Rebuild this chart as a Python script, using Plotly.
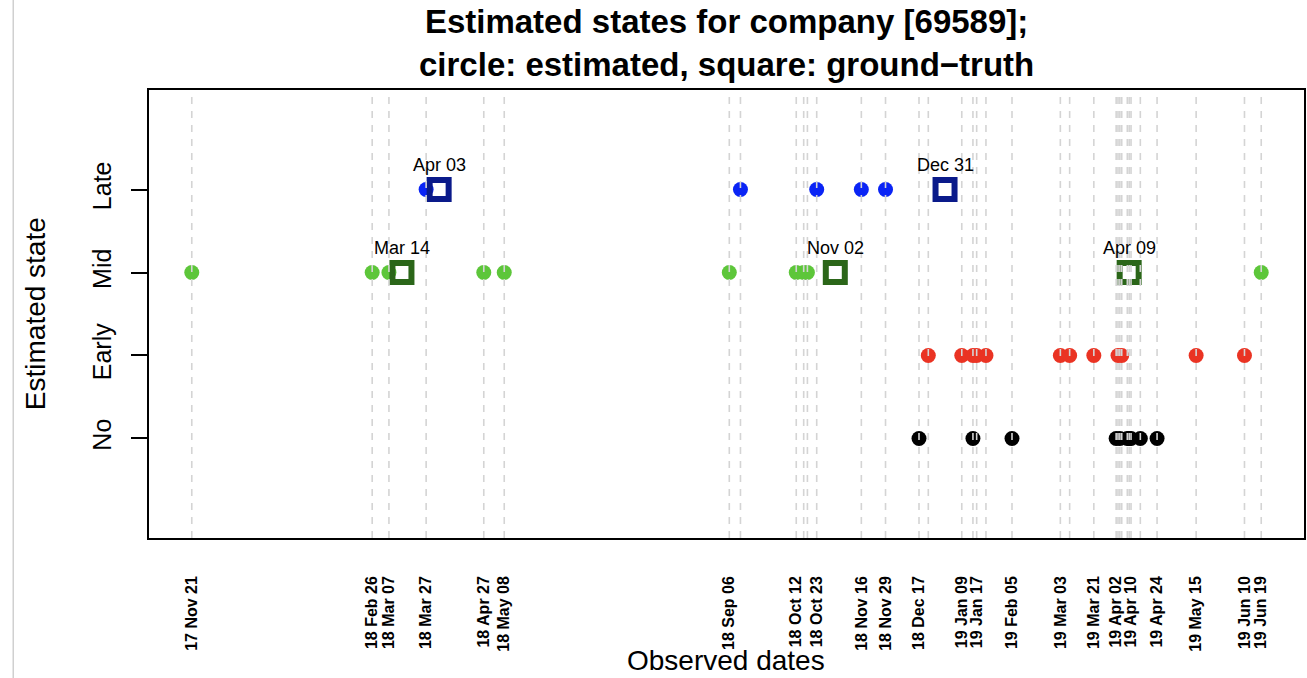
import pandas as pd
import plotly.graph_objects as go

# Observed dates and the state estimated on each (0=No, 1=Early, 2=Mid, 3=Late)
obs_dates = [
    "2017-11-21", "2018-02-26", "2018-03-07", "2018-03-27", "2018-04-27", "2018-05-08",
    "2018-09-06", "2018-09-12", "2018-10-12", "2018-10-16", "2018-10-18", "2018-10-23",
    "2018-11-16", "2018-11-29", "2018-12-17", "2018-12-22", "2019-01-09", "2019-01-15",
    "2019-01-15", "2019-01-17", "2019-01-22", "2019-02-05", "2019-03-03", "2019-03-08",
    "2019-03-21", "2019-04-02", "2019-04-03", "2019-04-04", "2019-04-05", "2019-04-08",
    "2019-04-09", "2019-04-10", "2019-04-15", "2019-04-24", "2019-05-15", "2019-06-10",
    "2019-06-19",
]
obs_states = [
    2, 2, 2, 3, 2, 2,
    2, 3, 2, 2, 2, 3,
    3, 3, 0, 1, 1, 0,
    1, 1, 1, 0, 1, 1,
    1, 0, 1, 0, 1, 0,
    0, 0, 0, 0, 1, 1,
    2,
]

# Ground-truth state changes
truth_dates = ["2018-03-14", "2018-04-03", "2018-11-02", "2018-12-31", "2019-04-09"]
truth_states = [2, 3, 2, 3, 2]

# Dates that carry a tick label on the x axis
label_dates = [
    "2017-11-21", "2018-02-26", "2018-03-07", "2018-03-27", "2018-04-27", "2018-05-08",
    "2018-09-06", "2018-10-12", "2018-10-23", "2018-11-16", "2018-11-29", "2018-12-17",
    "2019-01-09", "2019-01-17", "2019-02-05", "2019-03-03", "2019-03-21", "2019-04-02",
    "2019-04-10", "2019-04-24", "2019-05-15", "2019-06-10", "2019-06-19",
]

state_names = ["No", "Early", "Mid", "Late"]
state_values = [0, 1, 2, 3]
circle_colors = {0: "#000000", 1: "#EA3323", 2: "#5DC63A", 3: "#0A24F5"}
square_colors = {2: "#2B6619", 3: "#0A1A8A"}

FONT = "Liberation Sans, Arial, Helvetica, sans-serif"

obs = pd.DataFrame({"date": pd.to_datetime(obs_dates), "state": obs_states})
truth = pd.DataFrame({"date": pd.to_datetime(truth_dates), "state": truth_states})
ticks = pd.to_datetime(label_dates)

fig = go.Figure()

# Estimated states as filled circles
for s in state_values:
    sub = obs[obs["state"] == s]
    fig.add_trace(go.Scatter(
        x=sub["date"], y=sub["state"], mode="markers",
        marker=dict(symbol="circle", size=15, color=circle_colors[s], line=dict(width=0)),
        showlegend=False, hoverinfo="x+y",
    ))

# Ground truth as open squares
for s in sorted(truth["state"].unique()):
    sub = truth[truth["state"] == s]
    fig.add_trace(go.Scatter(
        x=sub["date"], y=sub["state"], mode="markers",
        marker=dict(symbol="square-open", size=19, color=square_colors[s],
                    line=dict(width=6, color=square_colors[s])),
        showlegend=False, hoverinfo="x+y",
    ))

# Date labels above each ground-truth square
for d, s in zip(truth["date"], truth["state"]):
    fig.add_annotation(
        x=d, y=s, text=d.strftime("%b %d"), showarrow=False,
        yshift=25, font=dict(family=FONT, size=18, color="#000000"),
        xanchor="center", yanchor="middle",
    )

# Dashed guide line at every observed date
for d in obs["date"].unique():
    fig.add_shape(
        type="line", xref="x", yref="paper", x0=d, x1=d, y0=0, y1=1,
        line=dict(color="#D4D4D4", width=1.6, dash="7px,7px"), layer="above",
    )

span = obs["date"].max() - obs["date"].min()
x_range = [obs["date"].min() - 0.04 * span, obs["date"].max() + 0.04 * span]

W, H = 1307, 678
ML, MR, MT, MB = 149, 1, 90, 140
PW = W - ML - MR
PH = H - MT - MB

fig.update_layout(
    width=W, height=H,
    margin=dict(l=ML, r=MR, t=MT, b=MB, pad=0),
    plot_bgcolor="#FFFFFF", paper_bgcolor="#FFFFFF",
    font=dict(family=FONT, color="#000000"),
    xaxis=dict(
        type="date", range=x_range,
        tickmode="array", tickvals=ticks, ticktext=[t.strftime("%y %b %d") for t in ticks],
        tickangle=-90, tickfont=dict(family=FONT, size=16, color="#000000", weight="bold"),
        ticks="", ticklabelstandoff=30,
        showgrid=False, zeroline=False,
        showline=True, linecolor="#000000", linewidth=1.5, mirror=True,
    ),
    yaxis=dict(
        range=[-1.2, 4.2],
        tickmode="array", tickvals=state_values, ticktext=state_names,
        tickangle=-90, tickfont=dict(family=FONT, size=25, color="#000000"),
        ticks="outside", ticklen=16, tickwidth=1.5, tickcolor="#000000",
        ticklabelstandoff=10,
        showgrid=False, zeroline=False,
        showline=True, linecolor="#000000", linewidth=1.5, mirror=True,
    ),
)

# Two-line bold title
fig.add_annotation(
    text="<b>Estimated states for company [69589];<br>circle: estimated, square: ground\u2212truth</b>",
    xref="paper", yref="paper", x=(727 - ML) / PW, y=1 + (MT - 43) / PH, showarrow=False,
    xanchor="center", yanchor="middle", align="center",
    font=dict(family=FONT, size=33, color="#000000"),
)

# Axis titles
fig.add_annotation(
    text="Observed dates", xref="paper", yref="paper",
    x=(727 - ML) / PW, y=-(660 - MT - PH) / PH, showarrow=False,
    xanchor="center", yanchor="middle", font=dict(family=FONT, size=28, color="#000000"),
)
fig.add_annotation(
    text="Estimated state", xref="paper", yref="paper",
    x=(35 - ML) / PW, y=0.5, showarrow=False, textangle=-90,
    xanchor="center", yanchor="middle", font=dict(family=FONT, size=28, color="#000000"),
)

# Thin frame line at the far left edge of the page
fig.add_shape(
    type="line", xref="paper", yref="paper",
    x0=(13 - ML) / PW, x1=(13 - ML) / PW, y0=-MB / PH, y1=1 + MT / PH,
    line=dict(color="#D0D0D0", width=1.5), layer="above",
)

fig.write_html("out.html")
